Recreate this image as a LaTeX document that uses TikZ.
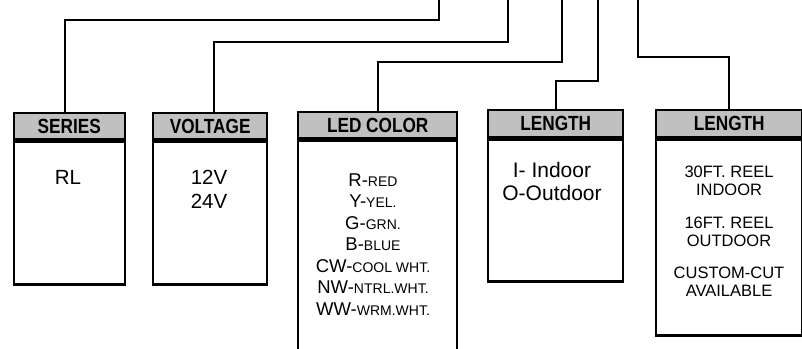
\documentclass[tikz,border=0pt]{standalone}
\usepackage{fontspec}
\setmainfont{Liberation Sans}
\definecolor{hdr}{RGB}{192,192,192}
\tikzset{
  conn/.style={line width=1.6pt},
  hdrbox/.style={draw, line width=2.4pt, fill=hdr, inner sep=0pt, anchor=north west,
    font=\bfseries\fontsize{20.5}{22}\selectfont},
  bodybox/.style={draw, line width=2.4pt, inner sep=0pt, anchor=north},
  btext/.style={font=\fontsize{20.5}{22}\selectfont, inner sep=0pt, anchor=base},
  otext/.style={font=\fontsize{21}{22}\selectfont, inner sep=0pt, anchor=base},
  ltext/.style={font=\fontsize{18.5}{20}\selectfont, inner sep=0pt, anchor=base},
  stext/.style={font=\fontsize{16.5}{18}\selectfont, inner sep=0pt, anchor=base},
}
\newcommand\hdrlabel[1]{\scalebox{0.84}[1]{#1}}
\newcommand\smc[1]{{\fontsize{14}{16}\selectfont #1}}
\begin{document}
\begin{tikzpicture}[x=1pt,y=-1pt]
\path[use as bounding box, clip] (0,0) rectangle (802,348);
% end points at the top edge
\coordinate (e1) at (439,0);
\coordinate (e2) at (508,0);
\coordinate (e3) at (562,0);
\coordinate (e4) at (598,0);
\coordinate (e5) at (638,0);
% boxes
\node[hdrbox, minimum width=111pt, minimum height=26pt] (h1) at (12.5,112) {\hdrlabel{SERIES}};
\node[bodybox, minimum width=111pt, minimum height=143pt] (b1) at (h1.south) {};
\node[hdrbox, minimum width=114pt, minimum height=26pt] (h2) at (152,112) {\hdrlabel{VOLTAGE}};
\node[bodybox, minimum width=114pt, minimum height=143pt] (b2) at (h2.south) {};
\node[hdrbox, minimum width=159pt, minimum height=26pt] (h3) at (297,111) {\hdrlabel{LED COLOR}};
\node[bodybox, minimum width=159pt, minimum height=230pt] (b3) at (h3.south) {};
\node[hdrbox, minimum width=135pt, minimum height=27pt] (h4) at (487,109) {\hdrlabel{LENGTH}};
\node[bodybox, minimum width=135pt, minimum height=142pt] (b4) at (h4.south) {};
\node[hdrbox, minimum width=146pt, minimum height=27pt] (h5) at (655,109) {\hdrlabel{LENGTH}};
\node[bodybox, minimum width=146pt, minimum height=196pt] (b5) at (h5.south) {};
% connectors
\draw[conn] ([xshift=-4pt]h1.north) |- (439,20) -- (e1);
\draw[conn] ([xshift=4pt]h2.north) |- (508,42) -- (e2);
\draw[conn] (h3.north) |- (562,62) -- (e3);
\draw[conn] (h4.north) |- (598,81) -- (e4);
\draw[conn] (h5.north) |- (638,57) -- (e5);
% texts
\node[btext] (t1) at (68,184) {RL};
\node[btext] (t2a) at (209,184) {12V};
\node[btext] (t2b) at (209,208) {24V};
\node[ltext] (t3a) at (373,186) {R-\smc{RED}};
\node[ltext] (t3b) at (373,207.5) {Y-\smc{YEL.}};
\node[ltext] (t3c) at (373,229) {G-\smc{GRN.}};
\node[ltext] (t3d) at (373,250.5) {B-\smc{BLUE}};
\node[ltext] (t3e) at (373,272) {CW-\smc{COOL WHT.}};
\node[ltext] (t3f) at (373,293.5) {NW-\smc{NTRL.WHT.}};
\node[ltext] (t3g) at (373,315) {WW-\smc{WRM.WHT.}};
\node[otext] (t4a) at (552,177) {I- Indoor};
\node[otext] (t4b) at (552,200) {O-Outdoor};
\node[stext] (t5a) at (729,177) {30FT. REEL};
\node[stext] (t5b) at (729,195) {INDOOR};
\node[stext] (t5c) at (729,228) {16FT. REEL};
\node[stext] (t5d) at (729,246) {OUTDOOR};
\node[stext] (t5e) at (729,278) {CUSTOM-CUT};
\node[stext] (t5f) at (729,296) {AVAILABLE};
\end{tikzpicture}
\end{document}
